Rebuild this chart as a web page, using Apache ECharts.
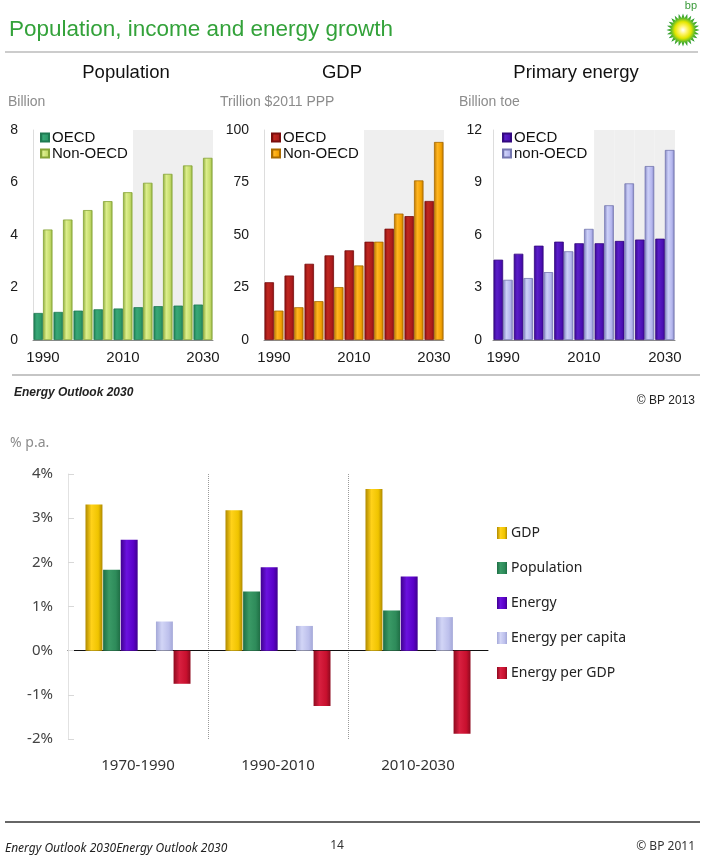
<!DOCTYPE html>
<html>
<head>
<meta charset="utf-8">
<script src="https://cdn.jsdelivr.net/npm/echarts@6/dist/echarts.min.js"></script>
<style>
html,body{margin:0;padding:0;background:#fff;}
#chart{width:704px;height:857px;}
</style>
</head>
<body>
<div id="chart"></div>
<script>
// ---------- DATA ----------
var years = ['1990','1995','2000','2005','2010','2015','2020','2025','2030'];
var projectionYears = ['2015','2020','2025','2030'];

var popOECD    = [1.03, 1.07, 1.12, 1.17, 1.20, 1.25, 1.29, 1.31, 1.35];
var popNonOECD = [4.21, 4.59, 4.95, 5.29, 5.63, 5.99, 6.33, 6.65, 6.94];
var popTicks   = [0, 8, 2];   // min, max, interval

var gdpOECD    = [27.5, 30.7, 36.3, 40.3, 42.7, 46.8, 53.0, 59.0, 66.2];
var gdpNonOECD = [14.0, 15.6, 18.5, 25.2, 35.5, 46.8, 60.2, 76.0, 94.3];
var gdpTicks   = [0, 100, 25];

var enOECD     = [4.59, 4.93, 5.39, 5.62, 5.53, 5.53, 5.66, 5.74, 5.79];
var enNonOECD  = [3.44, 3.54, 3.88, 5.07, 6.35, 7.70, 8.95, 9.94, 10.86];
var enTicks    = [0, 12, 3];

var periods        = ['1970-1990', '1990-2010', '2010-2030'];
var growthGDP      = [3.31, 3.18, 3.66];
var growthPop      = [1.83, 1.34, 0.91];
var growthEnergy   = [2.51, 1.89, 1.68];
var growthEnPerCap = [0.66, 0.56, 0.76];
var growthEnPerGDP = [-0.75, -1.25, -1.88];
var growthTicks    = [-2, 4, 1];

// ---------- HELPERS ----------
function grad(dark, light, mid) {
  return {type:'linear', x:0, y:0, x2:1, y2:0,
    colorStops:[{offset:0,color:dark},{offset:0.35,color:light},{offset:0.75,color:mid},{offset:1,color:dark}]};
}
function shade(max) {
  return years.map(function(y){ return projectionYears.indexOf(y) >= 0 ? max : null; });
}
var topFont = 'Liberation Sans, Arial, sans-serif';
var botFont = 'Noto Sans, Open Sans, sans-serif';

var topGrids = [
  {left:33,  width:180, top:130, height:210},
  {left:264, width:180, top:130, height:210},
  {left:493, width:182, top:130, height:210}
];
var topTicks = [popTicks, gdpTicks, enTicks];

var grid = topGrids.concat([{left:68, width:420, top:474, height:265}]);

var xAxis = [], yAxis = [];
topGrids.forEach(function(g, i){
  xAxis.push({type:'category', gridIndex:i, data:years,
    axisLine:{lineStyle:{color:'#8a8a8a', width:1}}, axisTick:{show:false},
    axisLabel:{interval:3, color:'#1a1a1a', fontSize:15, fontFamily:topFont, margin:10}});
  xAxis.push({type:'category', gridIndex:i, data:years, show:false, boundaryGap:true});
  yAxis.push({type:'value', gridIndex:i, min:topTicks[i][0], max:topTicks[i][1], interval:topTicks[i][2],
    axisLine:{show:true, lineStyle:{color:'#dddddd'}}, axisTick:{show:false}, splitLine:{show:false},
    axisLabel:{color:'#1a1a1a', fontSize:14, fontFamily:topFont, margin: i===2 ? 11 : 15}});
});
// bottom chart axes
xAxis.push({type:'category', gridIndex:3, data:periods, position:'bottom',
  axisLine:{show:false, onZero:false}, axisTick:{show:false},
  axisLabel:{color:'#333', fontSize:15, fontFamily:botFont, margin:19},
  splitLine:{show:true, interval:0, showMinLine:false, showMaxLine:false,
    lineStyle:{type:'dotted', color:'#9a9a9a', width:1}}});
xAxis.push({type:'category', gridIndex:3, data:periods, position:'top',
  axisLine:{show:true, onZero:true, lineStyle:{color:'#111', width:1}},
  axisTick:{show:false}, axisLabel:{show:false}});
yAxis.push({type:'value', gridIndex:3, min:growthTicks[0], max:growthTicks[1], interval:growthTicks[2],
  axisLine:{show:true, lineStyle:{color:'#e2e2e2'}},
  axisTick:{show:true, inside:true, length:6, lineStyle:{color:'#d8d8d8'}},
  splitLine:{show:false},
  axisLabel:{formatter:'{value}%', color:'#444', fontSize:15, fontFamily:botFont, margin:15}});

function topBar(name, gi, data, color, border) {
  return {name:name, type:'bar', xAxisIndex:gi*2, yAxisIndex:gi, data:data,
    barGap:'0%', barCategoryGap:'5%', z:3,
    itemStyle:{color:color, borderColor:border, borderWidth:0.8}};
}
function shadeBar(gi, max) {
  return {type:'bar', xAxisIndex:gi*2+1, yAxisIndex:gi, data:shade(max),
    barWidth:'100%', barCategoryGap:'0%', silent:true, z:1,
    itemStyle:{color:'#efefef'}};
}

var series = [
  shadeBar(0, popTicks[1]), shadeBar(1, gdpTicks[1]), shadeBar(2, enTicks[1]),
  topBar('OECD|pop', 0, popOECD, grad('#1f7a52','#38a877','#2d9a6a'), '#1f7a52'),
  topBar('Non-OECD|pop', 0, popNonOECD, grad('#8aa83a','#dcee8c','#c5dc6a'), '#86a436'),
  topBar('OECD|gdp', 1, gdpOECD, grad('#861010','#c02820','#ad1c1c'), '#7a0e0e'),
  topBar('Non-OECD|gdp', 1, gdpNonOECD, grad('#b87400','#ffb520','#f2a000'), '#a86a00'),
  topBar('OECD|en', 2, enOECD, grad('#38088f','#5a1ec8','#4b0fb5'), '#33087f'),
  topBar('non-OECD|en', 2, enNonOECD, grad('#8183c0','#ccd0f8','#b4b6ee'), '#7577b0')
];

function botBar(name, data, dark, light, mid) {
  return {name:name, type:'bar', xAxisIndex:6, yAxisIndex:3, data:data,
    barGap:'4%', barCategoryGap:'25%', z:3,
    itemStyle:{color:grad(dark, light, mid)}};
}
series.push(botBar('GDP', growthGDP, '#b08a00', '#ffd21a', '#f0c400'));
series.push(botBar('Population', growthPop, '#1f6e45', '#3a9a66', '#2e8b5a'));
series.push(botBar('Energy', growthEnergy, '#40008f', '#6a12de', '#5a00c8'));
series.push({name:'gap', type:'bar', xAxisIndex:6, yAxisIndex:3, data:periods.map(function(){return null;})});
series.push(botBar('Energy per capita', growthEnPerCap, '#a4a8d8', '#d2d5f6', '#bdc0ec'));
series.push(botBar('Energy per GDP', growthEnPerGDP, '#8e0a1f', '#d82040', '#c8102e'));

function topLegend(left, names) {
  return {left:left, top:130, padding:0, orient:'vertical', itemWidth:8, itemHeight:8, itemGap:1,
    icon:'rect', selectedMode:false, data:names,
    formatter:function(n){ return n.split('|')[0]; },
    textStyle:{fontSize:15, fontFamily:topFont, color:'#111', padding:[0,0,0,-2]}};
}
var legend = [
  topLegend(40, ['OECD|pop','Non-OECD|pop']),
  topLegend(271, ['OECD|gdp','Non-OECD|gdp']),
  topLegend(502, ['OECD|en','non-OECD|en']),
  {left:497, top:526, padding:0, orient:'vertical', itemWidth:10, itemHeight:12, itemGap:21, icon:'rect',
   selectedMode:false, data:['GDP','Population','Energy','Energy per capita','Energy per GDP'],
   textStyle:{fontSize:14, fontFamily:botFont, color:'#222', padding:[0,0,0,-1]}}
];

// logo star points (decoration)
var star = [];
for (var k = 0; k < 48; k++) {
  var a = k * Math.PI / 24, r = (k % 2) ? 12 : 16.5;
  star.push([683 + r * Math.cos(a), 30 + r * Math.sin(a)]);
}

function txt(x, y, s, size, opts) {
  opts = opts || {};
  return {type:'text', x:x, y:y, z:10, style:{text:s, fontSize:size,
    fontFamily:opts.font || topFont, fill:opts.color || '#111',
    fontStyle:opts.italic ? 'italic' : 'normal', fontWeight:opts.bold ? 'bold' : 'normal',
    textAlign:opts.align || 'left', textVerticalAlign:'middle'}};
}
function hline(x1, x2, y, color, w) {
  return {type:'line', z:10, shape:{x1:x1, y1:y, x2:x2, y2:y}, style:{stroke:color, lineWidth:w}};
}

var graphic = [
  txt(9, 30, 'Population, income and energy growth', 22.5, {color:'#33a23a'}),
  hline(5, 698, 52, '#9a9a9a', 1.2),
  {type:'polygon', z:10, shape:{points:star}, style:{fill:{type:'radial', x:0.5, y:0.5, r:0.5,
    colorStops:[{offset:0,color:'#ffffff'},{offset:0.25,color:'#fff46a'},{offset:0.5,color:'#e4e600'},{offset:0.72,color:'#5fbb2a'},{offset:1,color:'#0f8a2c'}]}}},
  txt(697, 6, 'bp', 11, {color:'#3a9a3a', align:'right'}),
  txt(126, 73, 'Population', 18.5, {align:'center'}),
  txt(342, 73, 'GDP', 18.5, {align:'center'}),
  txt(576, 73, 'Primary energy', 18.5, {align:'center'}),
  txt(8, 102, 'Billion', 14, {color:'#8c8c8c'}),
  txt(220, 102, 'Trillion $2011 PPP', 14, {color:'#8c8c8c'}),
  txt(459, 102, 'Billion toe', 14, {color:'#8c8c8c'}),
  hline(12, 700, 375, '#8c8c8c', 1.2),
  txt(14, 393, 'Energy Outlook 2030', 12, {italic:true, bold:true, color:'#222'}),
  txt(695, 401, '\u00a9 BP 2013', 12, {align:'right', color:'#222'}),
  txt(10, 443, '% p.a.', 14, {font:botFont, color:'#8c8c8c'}),
  hline(5, 700, 822, '#333333', 1.5),
  txt(5, 849, 'Energy Outlook 2030Energy Outlook 2030', 12, {font:botFont, italic:true, color:'#222'}),
  txt(337, 846, '14', 12, {font:botFont, align:'center', color:'#333'}),
  txt(695, 847, '\u00a9 BP 2011', 12, {font:botFont, align:'right', color:'#333'})
];

var chart = echarts.init(document.getElementById('chart'), null, {renderer:'canvas'});
chart.setOption({
  animation:false,
  backgroundColor:'#ffffff',
  grid:grid, xAxis:xAxis, yAxis:yAxis, series:series, legend:legend, graphic:graphic
});
</script>
</body>
</html>
